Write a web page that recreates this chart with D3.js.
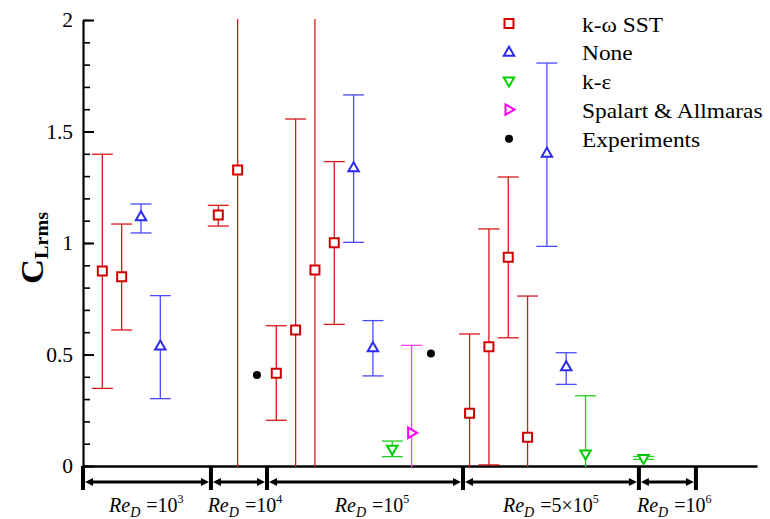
<!DOCTYPE html>
<html><head><meta charset="utf-8">
<script src="https://cdn.jsdelivr.net/npm/d3@7"></script>
</head><body>
<script>
// ---- data ----
const yTicksMajor = [0, 0.5, 1, 1.5, 2];
const yTickLabels = ["0", "0.5", "1", "1.5", "2"];
const sstX  = [1, 2, 7, 8, 10, 11, 12, 13, 20, 21, 22, 23];
const sstY  = [0.874, 0.849, 1.126, 1.327, 0.416, 0.61, 0.879, 1.001, 0.236, 0.535, 0.936, 0.129];
const sstHi = [1.398, 1.085, 1.169, 2.5, 0.629, 1.556, 2.5, 1.365, 0.592, 1.063, 1.296, 0.762];
const sstLo = [0.348, 0.61, 1.076, -0.5, 0.205, -0.3, -0.5, 0.635, -0.1, 0.005, 0.575, -0.2];
const noneX  = [3, 4, 14, 15, 24, 25];
const noneY  = [1.118, 0.538, 1.338, 0.53, 1.402, 0.445];
const noneHi = [1.175, 0.764, 1.664, 0.652, 1.807, 0.508];
const noneLo = [1.045, 0.302, 1.003, 0.404, 0.985, 0.366];
const keX  = [16, 26, 29];
const keY  = [0.075, 0.054, 0.034];
const keHi = [0.112, 0.315, 0.043];
const keLo = [0.042, -0.2, 0.03];
const saX  = [17];
const saY  = [0.149];
const saHi = [0.541];
const saLo = [-0.2];
const expX = [9, 18];
const expY = [0.408, 0.505];
const regionBounds = [0, 6.62, 9.52, 19.66, 28.76, 31.71];
const regionLabels = [
  {pos: 1.35, pre: "", exp: "3"},
  {pos: 6.45, pre: "", exp: "4"},
  {pos: 13.03, pre: "", exp: "5"},
  {pos: 21.73, pre: "5\u00d7", exp: "5"},
  {pos: 28.66, pre: "", exp: "6"}
];
const legendNames = ["k-\u03c9 SST", "None", "k-\u03b5", "Spalart & Allmaras", "Experiments"];

// ---- layout ----
const FONT = '"Liberation Serif"';
const W = 770, H = 519;
d3.select("body").style("margin", "0px").style("background", "#fff");
const x = d3.scaleLinear().domain([0, 34.87]).range([83, 757]);
const y = d3.scaleLinear().domain([0, 2]).range([466, 20]);
const svg = d3.select("body").append("svg").attr("width", W).attr("height", H).style("display", "block");

svg.append("clipPath").attr("id", "clip").append("rect")
  .attr("x", 83).attr("y", 19).attr("width", 680).attr("height", 448);

// y axis
const yMinor = d3.range(0, 21).map(i => i / 10);
svg.append("g").attr("transform", "translate(83,0)")
  .call(d3.axisLeft(y).tickValues(yMinor).tickSizeInner(-7).tickSizeOuter(0).tickFormat(""))
  .call(g => g.select(".domain").remove())
  .call(g => g.selectAll("line").attr("stroke", "#000").attr("stroke-width", 1.6));
const yAxisG = svg.append("g").attr("transform", "translate(83,0)")
  .call(d3.axisLeft(y).tickValues(yTicksMajor).tickSizeInner(-11).tickSizeOuter(0).tickPadding(10)
    .tickFormat((d, i) => yTickLabels[i]));
yAxisG.select(".domain").attr("stroke-width", 2.2);
yAxisG.selectAll("line").attr("stroke-width", 2);
yAxisG.selectAll("text").attr("fill", "#000").attr("font-size", null)
  .style("font-family", FONT).style("font-size", "21.5px");

// x axis line (no ticks)
svg.append("g").attr("transform", "translate(0,466)")
  .call(d3.axisBottom(x).tickValues([]).tickSizeOuter(0))
  .call(g => g.select(".domain").attr("stroke-width", 2.5));

// error bars and markers
const plot = svg.append("g").attr("clip-path", "url(#clip)");
function errorBars(xs, lo, hi, color) {
  const g = plot.append("g").attr("stroke", color).attr("stroke-width", 1.3).attr("fill", "none");
  xs.forEach((xv, i) => {
    g.append("line").attr("x1", x(xv)).attr("x2", x(xv)).attr("y1", y(lo[i])).attr("y2", y(hi[i]));
    [lo[i], hi[i]].forEach(v => {
      g.append("line").attr("x1", x(xv) - 10.5).attr("x2", x(xv) + 10.5).attr("y1", y(v)).attr("y2", y(v));
    });
  });
}
const shapes = {
  square: "M-4.5,-4.5H4.5V4.5H-4.5Z",
  up: "M0,-5.5L5.2,3.5L-5.2,3.5Z",
  down: "M0,5.5L5.2,-3.5L-5.2,-3.5Z",
  right: "M5.5,0L-3.5,5.2L-3.5,-5.2Z"
};
function markers(xs, ys, shape, color) {
  plot.append("g").selectAll("path").data(xs).join("path")
    .attr("d", shapes[shape])
    .attr("transform", (d, i) => `translate(${x(d)},${y(ys[i])})`)
    .attr("fill", "#fff").attr("stroke", color).attr("stroke-width", 2);
}
const cRed = "#d00000", cBlue = "#2a2aee", cGreen = "#00cc00", cMag = "#ff00ff";
errorBars(sstX, sstLo, sstHi, "#d81818");
errorBars(noneX, noneLo, noneHi, "#4a4aff");
errorBars(keX, keLo, keHi, "#22cc22");
errorBars(saX, saLo, saHi, "#ff44ff");
markers(sstX, sstY, "square", cRed);
markers(noneX, noneY, "up", cBlue);
markers(keX, keY, "down", cGreen);
markers(saX, saY, "right", cMag);
plot.append("g").selectAll("circle").data(expX).join("circle")
  .attr("cx", d => x(d)).attr("cy", (d, i) => y(expY[i])).attr("r", 4).attr("fill", "#000");

// legend
const legShapes = ["square", "up", "down", "right", "dot"];
const legColors = [cRed, cBlue, cGreen, cMag, "#000"];
const leg = svg.append("g");
legendNames.forEach((name, i) => {
  const cy = 23.5 + i * 28.7;
  if (legShapes[i] === "dot") {
    leg.append("circle").attr("cx", 509).attr("cy", cy + 0.5).attr("r", 4).attr("fill", "#000");
  } else {
    leg.append("path").attr("d", shapes[legShapes[i]]).attr("transform", `translate(509,${cy})`)
      .attr("fill", "#fff").attr("stroke", legColors[i]).attr("stroke-width", 2);
  }
});
leg.selectAll("text").data(legendNames).join("text")
  .attr("transform", (d, i) => `translate(582,${31.7 + i * 28.7}) scale(1.17,1)`)
  .attr("font-size", 20).style("font-family", FONT).attr("fill", "#000").text(d => d);

// y label
const yl = svg.append("text").attr("transform", "translate(43,284) rotate(-90) scale(1.12,1)")
  .attr("font-weight", "bold").style("font-family", FONT).attr("fill", "#000");
yl.append("tspan").attr("font-size", 31).style("font-family", FONT).text("C");
yl.append("tspan").attr("font-size", 18).style("font-family", FONT).attr("dy", 5).text("Lrms");

// region markers
const reg = svg.append("g").attr("stroke", "#000").attr("fill", "#000");
regionBounds.forEach(b => {
  reg.append("line").attr("x1", x(b)).attr("x2", x(b)).attr("y1", 466).attr("y2", 490).attr("stroke-width", 4);
});
for (let i = 0; i < regionBounds.length - 1; i++) {
  const a = x(regionBounds[i]) + 2, b = x(regionBounds[i + 1]) - 2, yy = 482;
  reg.append("line").attr("x1", a + 6).attr("x2", b - 6).attr("y1", yy).attr("y2", yy).attr("stroke-width", 3);
  reg.append("path").attr("stroke", "none").attr("d", `M${a},${yy}L${a + 8},${yy - 4}L${a + 8},${yy + 4}Z`);
  reg.append("path").attr("stroke", "none").attr("d", `M${b},${yy}L${b - 8},${yy - 4}L${b - 8},${yy + 4}Z`);
}
regionLabels.forEach(r => {
  const t = svg.append("text").attr("x", x(r.pos)).attr("y", 512).attr("font-size", 20)
    .style("font-family", FONT).attr("fill", "#000");
  t.append("tspan").attr("font-style", "italic").style("font-family", FONT).text("Re");
  t.append("tspan").attr("font-style", "italic").style("font-family", FONT).attr("font-size", 14).attr("dy", 5).text("D");
  t.append("tspan").attr("dy", -5).attr("dx", 6).style("font-family", FONT).text("=" + r.pre + "10");
  t.append("tspan").attr("font-size", 12).style("font-family", FONT).attr("dy", -9).text(r.exp);
});
</script></body></html>
